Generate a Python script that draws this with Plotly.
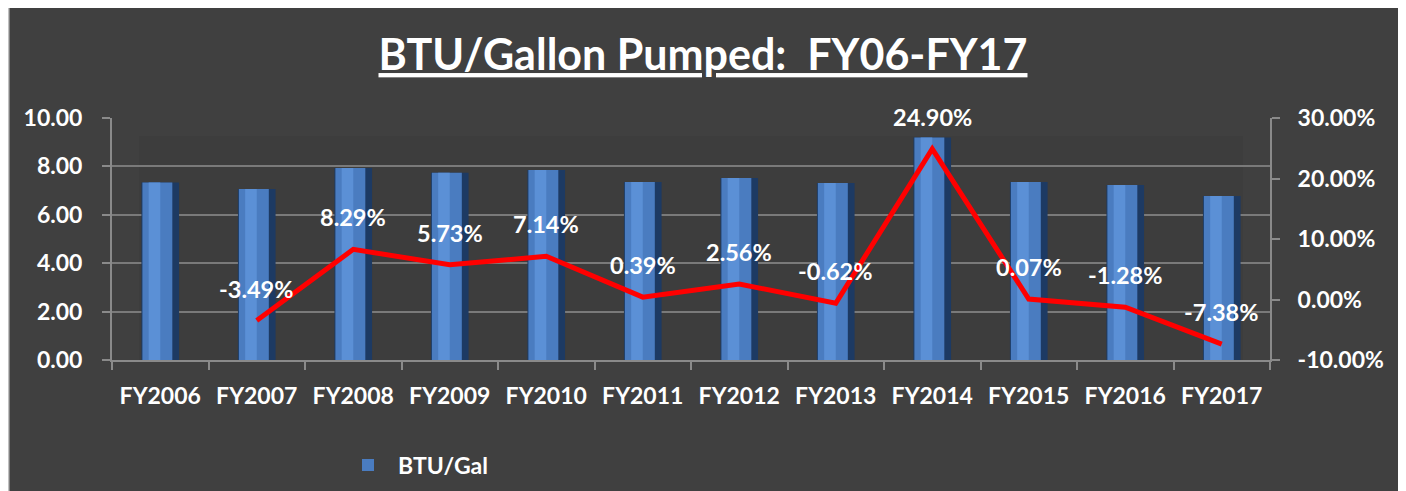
import plotly.graph_objects as go

categories = ["FY2006", "FY2007", "FY2008", "FY2009", "FY2010", "FY2011",
              "FY2012", "FY2013", "FY2014", "FY2015", "FY2016", "FY2017"]
btu_per_gal = [7.33, 7.07, 7.93, 7.74, 7.85, 7.36, 7.52, 7.31, 9.19, 7.36, 7.23, 6.78]
pct_change = [None, -3.49, 8.29, 5.73, 7.14, 0.39, 2.56, -0.62, 24.90, 0.07, -1.28, -7.38]
pct_labels = ["", "-3.49%", "8.29%", "5.73%", "7.14%", "0.39%", "2.56%", "-0.62%",
              "24.90%", "0.07%", "-1.28%", "-7.38%"]
left_ticks = [0, 2, 4, 6, 8, 10]
right_ticks = [-10, 0, 10, 20, 30]

FONT = "Lato"
BG = "#404040"
AX = "#8a8a8a"

W, H = 1406, 491
OFF = 8  # page body margin
PL, PR, PT, PB = 112, 1270, 118, 360  # plot box in page pixels
ML, MR, MT, MB = PL - OFF, W - (PR - OFF), PT - OFF, H - (PB - OFF)


def px_x(p):
    return (p - PL) / (PR - PL)


def px_y(p):
    return (PB - p) / (PB - PT)


fig = go.Figure()

# cylinder-like bars: dark body, main face, highlight
fig.add_trace(go.Bar(x=categories, y=btu_per_gal, width=0.39, marker_color="#1d3a63",
                     marker_line_width=0, showlegend=False, hoverinfo="skip"))
fig.add_trace(go.Bar(x=categories, y=btu_per_gal, width=0.31, offset=-0.185,
                     marker_color="#4a7cc0", marker_line_width=0, name="BTU/Gal",
                     showlegend=True))
fig.add_trace(go.Bar(x=categories, y=btu_per_gal, width=0.12, offset=-0.12,
                     marker_color="#5b90d6", marker_line_width=0, showlegend=False,
                     hoverinfo="skip"))

fig.add_trace(go.Scatter(x=categories, y=pct_change, yaxis="y2", mode="lines",
                         line=dict(color="#ff0000", width=5), showlegend=False,
                         connectgaps=False))

annotations = []
for c, v, t in zip(categories, pct_change, pct_labels):
    if v is None:
        continue
    annotations.append(dict(x=c, y=v, xref="x", yref="y2", text="<b>%s</b>" % t,
                            showarrow=False, yshift=32, yanchor="middle",
                            font=dict(family=FONT, size=23.5, color="white")))

shapes = [
    dict(type="rect", xref="paper", yref="paper", x0=px_x(8), x1=px_x(1400),
         y0=-1.0, y1=px_y(6), fillcolor=BG, line=dict(color="#c0c0c0", width=3),
         layer="below"),
    dict(type="rect", xref="paper", yref="paper", x0=px_x(139), x1=px_x(1243),
         y0=0, y1=px_y(136), fillcolor="#3d3d3d", line=dict(width=0), layer="below"),
]

right_text = ["%.2f%%" % v for v in right_ticks]

fig.update_layout(
    width=W, height=H,
    margin=dict(l=ML, r=MR, t=MT, b=MB, autoexpand=False),
    paper_bgcolor="white",
    plot_bgcolor="rgba(0,0,0,0)",
    barmode="overlay",
    title=dict(text="<b><u>BTU/Gallon Pumped:\u00a0 FY06-FY17</u></b>",
               x=(703 - OFF) / W, xref="container", xanchor="center",
               y=1 - (55 - OFF) / H, yref="container", yanchor="middle",
               font=dict(family=FONT, size=43, color="white")),
    xaxis=dict(showline=True, linecolor=AX, linewidth=2, ticks="outside",
               tickson="boundaries", ticklen=8, tickcolor=AX, tickwidth=2,
               showgrid=False, automargin=False,
               tickfont=dict(family=FONT, size=23, color="white", weight="bold"),
               ticklabelstandoff=14),
    yaxis=dict(range=[0, 10], tickvals=left_ticks, tickformat=".2f",
               showline=True, linecolor=AX, linewidth=2, ticks="outside",
               ticklen=8, tickcolor=AX, tickwidth=2, automargin=False,
               showgrid=True, gridcolor="#7a7a7a", gridwidth=1.5, zeroline=False,
               tickfont=dict(family=FONT, size=23, color="white", weight="bold"),
               ticklabelstandoff=15),
    yaxis2=dict(range=[-10, 30], tickvals=right_ticks, ticktext=right_text,
                overlaying="y", side="right", automargin=False,
                showline=True, linecolor=AX, linewidth=2, ticks="outside",
                ticklen=8, tickcolor=AX, tickwidth=2,
                showgrid=False, zeroline=False,
                tickfont=dict(family=FONT, size=23, color="white", weight="bold"),
                ticklabelstandoff=13),
    legend=dict(x=px_x(338), y=px_y(465), xanchor="left", yanchor="middle",
                orientation="h", bgcolor="rgba(0,0,0,0)", itemwidth=50,
                font=dict(family=FONT, size=23, color="white", weight="bold")),
    annotations=annotations,
    shapes=shapes,
)

fig.write_html("out.html")
